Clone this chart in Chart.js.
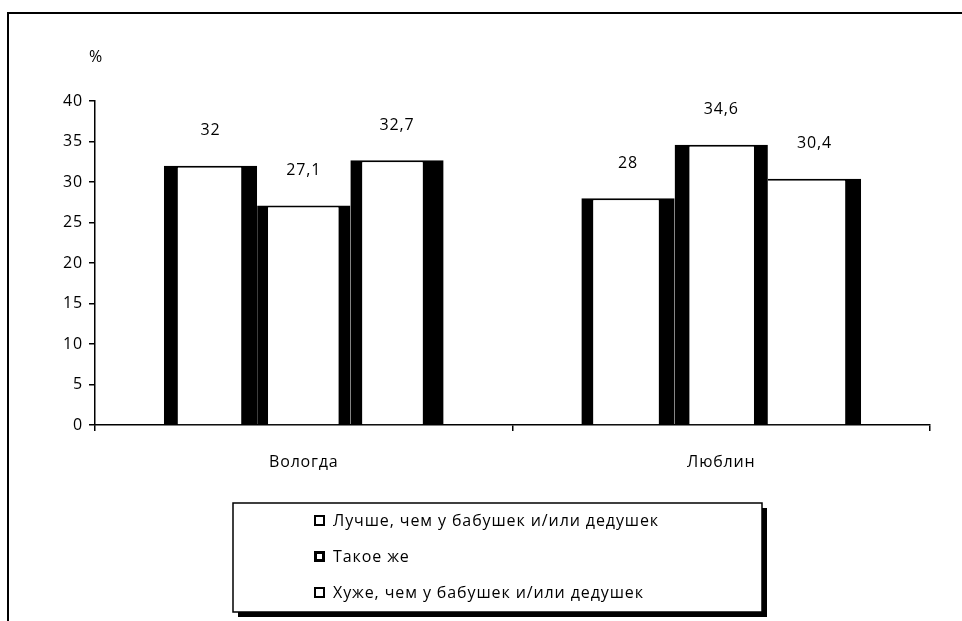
<!DOCTYPE html>
<html>
<head>
<meta charset="utf-8">
<script src="https://cdn.jsdelivr.net/npm/chart.js@4"></script>
<style>
  html, body { margin: 0; padding: 0; background: #fff; }
  #wrap { width: 962px; height: 621px; }
</style>
</head>
<body>
<div id="wrap"><canvas id="chart" width="962" height="621"></canvas></div>
<script>
const categories = ['Вологда', 'Люблин'];
const seriesNames = [
  'Лучше, чем у бабушек и/или дедушек',
  'Такое же',
  'Хуже, чем у бабушек и/или дедушек'
];
const better = [32, 28];
const same = [27.1, 34.6];
const worse = [32.7, 30.4];
const yTicks = [0, 5, 10, 15, 20, 25, 30, 35, 40];

// black side walls for each bar: [dataset][category]
const walls = [
  [{ left: 14, right: 16, top: 2, bottom: 0 }, { left: 12, right: 16, top: 2, bottom: 0 }],
  [{ left: 11, right: 12, top: 2, bottom: 0 }, { left: 15, right: 14, top: 2, bottom: 0 }],
  [{ left: 12, right: 21, top: 2, bottom: 0 }, { left: 0, right: 16, top: 2, bottom: 0 }]
];

const FONT = '"Open Sans", sans-serif';

const decor = {
  id: 'decor',
  beforeDraw(chart) {
    const ctx = chart.ctx;
    // wide letter spacing for all text on the canvas
    ctx.letterSpacing = '0.8px';
    ctx.save();
    ctx.fillStyle = '#fff';
    ctx.fillRect(0, 0, chart.width, chart.height);
    // outer frame
    ctx.strokeStyle = '#000';
    ctx.lineWidth = 2;
    ctx.beginPath();
    ctx.moveTo(8, chart.height);
    ctx.lineTo(8, 13);
    ctx.lineTo(chart.width, 13);
    ctx.stroke();
    ctx.fillStyle = '#000';
    ctx.font = '16px ' + FONT;
    ctx.textAlign = 'center';
    ctx.textBaseline = 'middle';
    ctx.fillText('%', 96, 57);
    ctx.restore();
  },
  afterDatasetsDraw(chart) {
    const ctx = chart.ctx;
    ctx.save();
    ctx.fillStyle = '#000';
    ctx.font = '16px ' + FONT;
    ctx.textAlign = 'center';
    ctx.textBaseline = 'middle';
    chart.data.datasets.forEach((ds, d) => {
      chart.getDatasetMeta(d).data.forEach((bar, i) => {
        ctx.fillText(String(ds.data[i]).replace('.', ','), bar.x, bar.y - 35);
      });
    });
    ctx.restore();
  },
  afterDraw(chart) {
    // legend box with drop shadow
    const ctx = chart.ctx;
    const bx = 233, by = 503, bw = 529, bh = 109;
    ctx.save();
    ctx.fillStyle = '#000';
    ctx.fillRect(bx + 5, by + 5, bw, bh);
    ctx.fillStyle = '#fff';
    ctx.fillRect(bx, by, bw, bh);
    ctx.strokeStyle = '#000';
    ctx.lineWidth = 1.5;
    ctx.strokeRect(bx, by, bw, bh);
    ctx.font = '16px ' + FONT;
    ctx.letterSpacing = '0.9px';
    ctx.textAlign = 'left';
    ctx.textBaseline = 'middle';
    chart.data.datasets.forEach((ds, d) => {
      const y = 521 + d * 36;
      ctx.fillStyle = '#000';
      ctx.fillRect(314, y - 6, 11, 11);
      ctx.fillStyle = '#fff';
      const inset = d === 1 ? 3 : 2;
      ctx.fillRect(314 + inset, y - 6 + inset, 11 - 2 * inset, 11 - 2 * inset);
      ctx.fillStyle = '#000';
      ctx.fillText(ds.label, 333, y);
    });
    ctx.restore();
  }
};

const series = [better, same, worse];

new Chart(document.getElementById('chart'), {
  type: 'bar',
  data: {
    labels: categories,
    datasets: series.map((values, d) => ({
      label: seriesNames[d],
      data: values,
      backgroundColor: '#fff',
      borderColor: '#000',
      borderSkipped: false,
      borderWidth: (c) => walls[c.datasetIndex][c.dataIndex],
      barPercentage: 1,
      categoryPercentage: 0.67
    }))
  },
  options: {
    responsive: false,
    animation: false,
    events: [],
    layout: { padding: { left: 0, top: 101, right: 32, bottom: 146 } },
    plugins: {
      legend: { display: false },
      tooltip: { enabled: false }
    },
    scales: {
      x: {
        afterFit(scale) { scale.height = 50; },
        border: { color: '#000', width: 1.5 },
        grid: {
          offset: true,
          drawOnChartArea: false,
          drawTicks: true,
          tickLength: 6,
          color: '#000',
          lineWidth: 1.5
        },
        ticks: { color: '#000', padding: 22, font: { family: FONT, size: 16 } }
      },
      y: {
        min: 0,
        max: 40,
        afterFit(scale) { scale.width = 95; },
        afterBuildTicks(scale) { scale.ticks = yTicks.map(v => ({ value: v })); },
        border: { color: '#000', width: 1.5 },
        grid: {
          drawOnChartArea: false,
          tickLength: 6,
          color: '#000',
          lineWidth: 1.5
        },
        ticks: { color: '#000', padding: 6, font: { family: FONT, size: 16 } }
      }
    }
  },
  plugins: [decor]
});
</script>
</body>
</html>
